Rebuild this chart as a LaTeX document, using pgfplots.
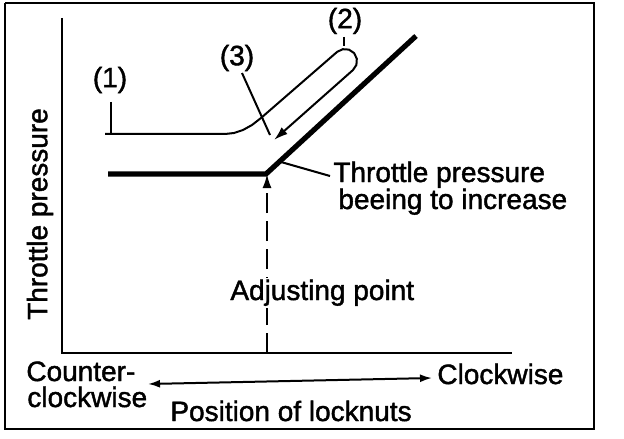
\documentclass[border=0pt]{standalone}
\usepackage{fontspec}
\setmainfont{Liberation Sans}[FakeBold=1.5]
\usepackage{pgfplots}
\pgfplotsset{compat=1.18}
\usetikzlibrary{arrows.meta}
\begin{document}
\begin{tikzpicture}
\begin{axis}[
  width=312pt, height=219pt, scale only axis,
  xmin=0, xmax=624, ymin=0, ymax=438, y dir=reverse,
  axis lines=none, xtick=\empty, ytick=\empty,
  clip=false,
  every axis plot/.append style={black},
  nodes={font=\fontsize{14}{16}\selectfont, inner sep=0pt},
]
\path (axis cs:0,0) rectangle (axis cs:624,438);
% outer frame
\addplot[line width=1.2pt, no marks] coordinates {(5,3) (594,3) (594,429) (5,429) (5,3)};
% axes
\addplot[line width=1pt, no marks] coordinates {(62,18) (62,353) (512,353)};
% thick characteristic
\addplot[line width=2.6pt, no marks, line join=miter] coordinates {(108,174) (266,174) (416,36)};
% thin path (1)->(2)->(3)
\addplot[line width=1pt, no marks, -{Latex[length=7pt,width=4.5pt]}] coordinates {
 (105,134) (225,134) (234,133) (243,130) (252,125) (261,118)
 (337.1,51.9) (342.7,49.2) (348.9,49.6) (354.1,53.1) (356.8,58.7) (356.4,64.9) (352.9,70.1)
 (274,140)};
% (1) tick
\addplot[line width=1pt, no marks] coordinates {(111,102) (111,134)};
% (2) tick
\addplot[line width=1pt, no marks] coordinates {(344,37) (344,46)};
% (3) leader
\addplot[line width=1pt, no marks] coordinates {(242,73) (270,135)};
% dashed adjusting arrow
\addplot[line width=1pt, no marks, dash pattern=on 10pt off 4pt, -{Latex[length=7pt,width=4.5pt]}] coordinates {(267,353) (267,174)};
% leader to text
\addplot[line width=1pt, no marks] coordinates {(281,162) (330,176)};
% double arrow
\addplot[line width=1pt, no marks, {Latex[length=6pt,width=4pt]}-{Latex[length=6pt,width=4pt]}] coordinates {(148,384) (432,378)};

\node at (axis cs:110,80) {(1)};
\node at (axis cs:345,21) {(2)};
\node at (axis cs:237,58) {(3)};
\node[anchor=base west] at (axis cs:333,182) {Throttle pressure};
\node[anchor=base west] at (axis cs:338,209) {beeing to increase};
\node[anchor=base west, fill=white, inner sep=1pt] at (axis cs:228,300) {Adjusting point};
\node[rotate=90] at (axis cs:40,214) {Throttle pressure};
\node[anchor=base west] at (axis cs:26,381) {Counter-};
\node[anchor=base west] at (axis cs:27,407) {clockwise};
\node[anchor=base west] at (axis cs:437,384) {Clockwise};
\node[anchor=base west] at (axis cs:170,421) {Position of locknuts};
\end{axis}
\end{tikzpicture}
\end{document}
